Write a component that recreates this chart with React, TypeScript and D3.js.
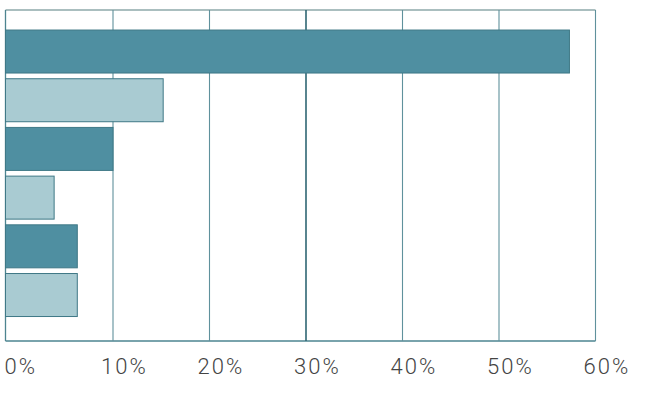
import React from "react";
import * as d3 from "d3";

const categories = ["A", "B", "C", "D", "E", "F"];
const values = [57.3, 15.2, 10.0, 3.9, 6.3, 6.3];
const shades = ["dark", "light", "dark", "light", "dark", "light"];
const tickValues = [0, 10, 20, 30, 40, 50, 60];
const tickLabels = ["0%", "10%", "20%", "30%", "40%", "50%", "60%"];

const W = 650;
const H = 404;
const left = 5.5;
const right = 595.5;
const top = 10;
const bottom = 341;

export default function App() {
  const x = d3.scaleLinear().domain([-1.14, 60]).range([left, right]);
  const y = d3
    .scaleBand<string>()
    .domain(categories)
    .range([top, bottom])
    .paddingInner(0.117)
    .paddingOuter(0.457)
    .align(0.45);

  const fillFor = (s: string) => (s === "dark" ? "#4f8fa1" : "#a9cbd2");

  return (
    <svg
      width={W}
      height={H}
      style={{ position: "absolute", left: 0, top: 0 }}
    >
      <rect x={0} y={0} width={W} height={H} fill="#ffffff" />
      {/* frame */}
      <line x1={left} x2={right} y1={top} y2={top} stroke="#8ea8aa" strokeWidth={1.3} />
      <line x1={left} x2={left} y1={top} y2={bottom} stroke="#4d8490" strokeWidth={1.3} />
      <line x1={left} x2={right} y1={bottom} y2={bottom} stroke="#4d8490" strokeWidth={1.3} />
      {/* gridlines */}
      {tickValues
        .filter((t) => t > 0)
        .map((t) => (
          <line
            key={t}
            x1={x(t)}
            x2={x(t)}
            y1={top}
            y2={bottom}
            stroke={t === 30 ? "#2f6673" : "#5f919c"}
            strokeWidth={t === 30 ? 1.6 : 1.1}
          />
        ))}
      {/* bars */}
      {categories.map((c, i) => (
        <rect
          key={c}
          x={x(x.domain()[0])}
          y={y(c)}
          width={x(values[i]) - x(x.domain()[0])}
          height={y.bandwidth()}
          fill={fillFor(shades[i])}
          stroke="#3f7886"
          strokeWidth={1}
        />
      ))}
      {/* tick labels */}
      {tickValues.map((t, i) => (
        <text
          key={t}
          x={x(t) - 12}
          y={374}
          fontFamily="Roboto, sans-serif"
          fontWeight={300}
          fontSize={22}
          letterSpacing={2}
          fill="#444444"
        >
          {tickLabels[i]}
        </text>
      ))}
    </svg>
  );
}
